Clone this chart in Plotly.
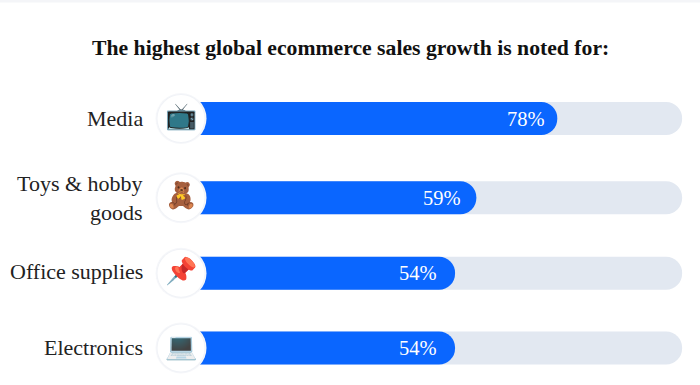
import plotly.graph_objects as go

categories = ["Media", "Toys & hobby<br>goods", "Office supplies", "Electronics"]
values = [78, 59, 54, 54]
emojis = ["📺", "🧸", "📌", "💻"]
value_labels = ["78%", "59%", "54%", "54%"]

# layout constants (pixel rows of the four rows, on a 0..385 y axis)
rows = [118.5, 197.7, 273.3, 348]
label_nudge = [0, 0, -2, -1]
value_shift = [-10, -13, -16, -16]
bar_base = -9.5
track_end = 107.3
px_per_unit = 4.26
zero_px = 225
serif = "Liberation Serif, serif"

fig = go.Figure()
fig.add_trace(go.Bar(y=rows, x=[track_end - bar_base] * 4, base=bar_base, orientation="h", width=33,
                     marker=dict(color="#e2e8f1", line_width=0), hoverinfo="skip"))
fig.add_trace(go.Bar(y=rows, x=[v - bar_base for v in values], base=bar_base, orientation="h", width=33,
                     marker=dict(color="#0a66ff", line_width=0), hoverinfo="skip"))
circle_x = [(181 - zero_px) / px_per_unit] * 4
for size, col in [(51, "#f6f7fa"), (49, "#f1f3f7"), (47, "#ffffff")]:
    fig.add_trace(go.Scatter(x=circle_x, y=rows, mode="markers", hoverinfo="skip",
                             marker=dict(size=size, color=col, line_width=0)))
fig.add_trace(go.Scatter(x=circle_x, y=rows, mode="text", text=emojis, textposition="middle center",
                         textfont=dict(size=26), hoverinfo="skip"))

ann = [dict(x=0.5, y=48, xshift=0.5, xref="paper", yref="y",
            text="<b>The highest global ecommerce sales growth is noted for:</b>",
            showarrow=False, xanchor="center", yanchor="middle",
            font=dict(family=serif, size=21.7, color="#111111"))]
for c, r, n in zip(categories, rows, label_nudge):
    ann.append(dict(x=(145 - zero_px) / px_per_unit, y=r + n, text=c, showarrow=False, xanchor="right",
                    yanchor="middle", align="right", font=dict(family=serif, size=22, color="#222222")))
for v, lab, r, s in zip(values, value_labels, rows, value_shift):
    ann.append(dict(x=v, xshift=s, y=r, text=lab, showarrow=False, xanchor="right", yanchor="middle",
                    font=dict(family=serif, size=20.5, color="#ffffff")))

fig.update_layout(
    width=700, height=385, margin=dict(l=0, r=0, t=0, b=0), autosize=False,
    paper_bgcolor="#ffffff", plot_bgcolor="#ffffff", showlegend=False,
    barmode="overlay", barcornerradius=16,
    xaxis=dict(range=[-zero_px / px_per_unit, (700 - zero_px) / px_per_unit], visible=False, fixedrange=True),
    yaxis=dict(range=[385, 0], visible=False, fixedrange=True),
    annotations=ann,
    shapes=[dict(type="rect", xref="paper", yref="y", x0=0, x1=1, y0=0, y1=2.5,
                 fillcolor="#f4f5f8", line_width=0)],
)
fig.write_html("out.html", config={"displayModeBar": False},
               post_script="document.body.style.margin='0';document.body.style.overflow='hidden';")
